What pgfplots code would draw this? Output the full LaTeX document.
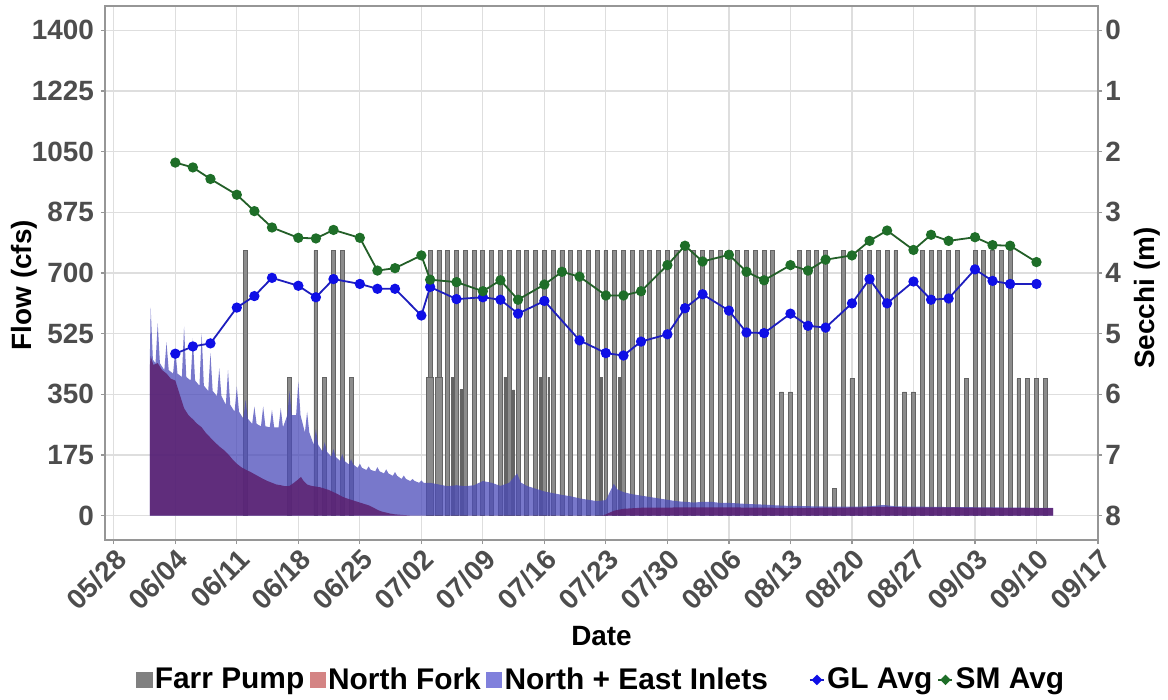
\documentclass[border=0pt]{standalone}
\usepackage{pgfplots}
\pgfplotsset{compat=1.18}
\usepackage{fontspec}
\setmainfont{Liberation Sans}
\definecolor{tickgray}{RGB}{77,77,77}
\definecolor{gridgray}{RGB}{222,222,222}
\definecolor{framegray}{RGB}{150,150,150}
\definecolor{barfill}{RGB}{140,140,140}
\definecolor{bardraw}{RGB}{100,100,100}
\definecolor{lav}{RGB}{75,75,185}
\definecolor{purp}{RGB}{91,32,111}
\definecolor{legpink}{RGB}{212,132,132}
\definecolor{leglav}{RGB}{128,128,220}
\definecolor{leggray}{RGB}{128,128,128}
\definecolor{glblue}{RGB}{15,15,230}
\definecolor{glline}{RGB}{30,30,190}
\definecolor{smgreen}{RGB}{30,110,40}
\definecolor{smline}{RGB}{35,95,40}
\newcommand{\tkfont}{\fontsize{14}{16}\selectfont\bfseries}
\begin{document}
\begin{tikzpicture}
\path[use as bounding box] (-52.5bp,-80bp) rectangle (531.5bp,270bp);
\begin{axis}[
  scale only axis, width=496.5bp, height=267bp,
  at={(0,0)}, anchor=south west,
  xmin=-1, xmax=112, ymin=-70, ymax=1470,
  xtick={0,7,...,112},
  xticklabels={05/28,06/04,06/11,06/18,06/25,07/02,07/09,07/16,07/23,07/30,08/06,08/13,08/20,08/27,09/03,09/10,09/17},
  ytick={0,175,350,525,700,875,1050,1225,1400},
  /pgf/number format/1000 sep={},
  /pgf/number format/assume math mode=true,
  tick pos=left,
  tick align=outside,
  major tick length=2bp,
  every tick/.style={framegray, line width=0.6bp},
  grid=major,
  major grid style={gridgray, line width=0.6bp},
  axis line style={framegray, line width=0.7bp},
  tick label style={font=\tkfont, text=tickgray},
  xticklabel style={rotate=45, anchor=north east, inner sep=1bp},
  xlabel={Date}, ylabel={Flow (cfs)},
  every axis x label/.style={at={(axis description cs:0.5,0)}, yshift=-48bp, anchor=center, font=\tkfont},
  every axis y label/.style={at={(axis description cs:0,0.4775)}, xshift=-40.5bp, rotate=90, anchor=center, font=\tkfont},
]
% Farr Pump - full days
\addplot[ybar, bar width=0.45, bar shift=0pt, fill=barfill, draw=bardraw, line width=0.4bp] coordinates {
(15,765)(23,765)(25,765)(26,765)
(36,765)(37,765)(38,765)(39,765)(40,765)(41,765)(42,765)(43,765)(44,765)(45,765)
(46,765)(47,765)(48,765)(49,765)(50,765)(51,765)(52,765)(53,765)(54,765)(55,765)
(56,765)(57,765)(58,765)(59,765)(60,765)(61,765)(62,765)(63,765)(64,765)(65,765)
(66,765)(67,765)(68,765)(69,765)(70,765)(71,765)(72,765)(73,765)(74,765)(75,765)
(78,765)(79,765)(80,765)(81,765)(83,765)
(85,765)(86,765)(87,765)(88,765)(89,765)
(92,765)(93,765)(94,765)(95,765)(96,765)
(98,765)(99,765)(100,765)(101,765)(102,765)
};
% Farr Pump - partial days
\addplot[ybar, bar width=0.45, bar shift=0pt, fill=barfill, draw=bardraw, line width=0.4bp] coordinates {
(20,400)(24,400)(27,400)
(76,357)(77,357)(82,78)(84,395)(90,357)(91,357)(97,395)
(103,395)(104,395)(105,395)(106,395)
};
\addplot[ybar, bar width=0.22, bar shift=0pt, fill=bardraw, draw=bardraw, line width=0.3bp] coordinates {
(38.5,400)(39.5,364)(44.5,400)(45.5,363)(48.5,400)(49.5,400)(55.5,400)(57.5,400)
};
\addplot[ybar, bar width=0.8, bar shift=0pt, fill=barfill, draw=bardraw, line width=0.4bp] coordinates {
(36,400)(37,400)
};
% North + East Inlets
\addplot[fill=lav, fill opacity=0.75, draw=none] coordinates {
(4.1,0)(4.1,450)(4.2,600)(4.45,450)
(4.75,440)(5,555)(5.25,440)
(5.75,420)(6,500)(6.25,420)
(6.75,410)(7,480)(7.25,410)
(7.75,400)(8,545)(8.25,400)
(8.75,390)(9,512)(9.25,390)
(9.75,375)(10,526)(10.25,375)
(10.75,360)(11,470)(11.25,360)
(11.75,345)(12,425)(12.25,345)
(12.75,320)(13,420)(13.25,320)
(13.75,300)(14,373)(14.25,300)
(14.75,280)(15,334)(15.25,280)
(15.75,265)(16,315)(16.25,265)
(16.75,258)(17,315)(17.25,258)
(17.75,255)(18,305)(18.25,255)
(18.75,255)(19,310)(19.25,255)
(19.75,290)(20,360)(20.25,290)
(20.75,290)(21,387)(21.25,290)
(21.75,240)(22,300)(22.25,240)
(22.75,205)(23,250)(23.25,205)
(23.75,185)(24,212)(24.25,185)
(24.75,170)(25,192)(25.25,170)
(25.75,158)(26,178)(26.25,158)
(26.75,148)(27,163)(27.25,148)
(27.75,138)(28,150)(28.25,138)
(28.75,132)(29,142)(29.25,132)
(29.75,128)(30,140)(30.25,128)
(30.75,122)(31,134)(31.25,122)
(31.75,115)(32,126)(32.25,115)
(32.75,106)(33,116)(33.25,106)
(33.75,100)(34,106)(34.25,100)
(34.75,95)(35,102)(35.25,95)
(36,95)(37,90)(38,85)(39,88)(40,85)(41,88)(42,100)(43,95)(44,86)(45,95)(45.9,122)(46.3,96)
(47,86)(48,78)(49,70)(50,65)(51,60)(52,56)(53,50)(54,46)(55,42)(56,45)(56.9,92)(57.3,76)
(58,68)(59,62)(60,58)(61,54)(62,50)(63,46)(64,42)(65,40)(66,38)(67,40)(68,40)(69,37)(70,37)
(72,34)(74,32)(76,29)(78,28)(80,27)(82,26)(84,26)(86,27)(87.6,31)(89,27)(92,26)(95,25)
(100,24)(104,23)(106.9,23)(106.9,0)
} \closedcycle;
% North Fork
\addplot[fill=purp, fill opacity=0.85, draw=none] coordinates {
(4.1,0)(4.1,430)(4.2,460)(4.5,435)(5,440)(5.5,420)(6,410)(6.5,395)(7,390)(7.5,350)(8,310)
(8.5,290)(9,278)(9.5,265)(10,255)(10.5,238)(11,225)(11.5,212)(12,200)(12.5,190)(13,178)
(13.5,163)(14,150)(14.5,140)(15,133)(15.5,127)(16,120)(16.5,113)(17,106)(17.5,100)(18,95)
(18.5,90)(19,88)(19.5,85)(20,86)(20.5,95)(21,105)(21.3,112)(21.6,100)(22,90)(22.5,86)(23,84)
(23.5,82)(24,78)(24.5,74)(25,68)(25.5,62)(26,55)(26.5,50)(27,46)(27.5,42)(28,38)(28.5,34)
(29,30)(29.5,24)(30,17)(30.5,12)(31,9)(31.5,6)(32,4)(33,2)(34,0)(55.5,0)(56,4)(56.5,10)
(57,15)(58,20)(60,23)(65,24)(70,24)(75,23)(80,23)(85,24)(88,26)(90,24)(95,24)(100,23)
(106.9,22)(106.9,0)
} \closedcycle;
\end{axis}
\begin{axis}[
  scale only axis, width=496.5bp, height=267bp,
  at={(0,0)}, anchor=south west,
  xmin=-1, xmax=112, ymin=-0.4, ymax=8.4, y dir=reverse,
  axis x line=none, axis y line*=right,
  ytick={0,1,2,3,4,5,6,7,8},
  /pgf/number format/assume math mode=true,
  tick align=outside,
  major tick length=2bp,
  every tick/.style={framegray, line width=0.6bp},
  axis line style={framegray, line width=0.7bp},
  tick label style={font=\tkfont, text=tickgray},
  yticklabel style={inner sep=1.5bp},
  ylabel={Secchi (m)},
  every axis y label/.style={at={(axis description cs:1,0.453)}, xshift=24.5bp, rotate=90, anchor=center, font=\tkfont},
  legend columns=6,
  legend style={at={(0.5,-0.262)}, anchor=center, draw=none, fill=none,
    font=\fontsize{15}{18}\selectfont\bfseries,
    nodes={inner sep=1.2bp},
    /tikz/every even column/.append style={column sep=1.5bp}},
]
\addlegendimage{legend image code/.code={\fill[leggray] (0bp,-3.8bp) rectangle (7.6bp,3.8bp);}}
\addlegendentry{Farr Pump}
\addlegendimage{legend image code/.code={\fill[legpink] (0bp,-3.8bp) rectangle (7.6bp,3.8bp);}}
\addlegendentry{North Fork}
\addlegendimage{legend image code/.code={\fill[leglav] (0bp,-3.8bp) rectangle (7.6bp,3.8bp);}}
\addlegendentry{North + East Inlets}
\addlegendimage{empty legend}
\addlegendentry{\hspace*{14bp}}
\addplot[glline, line width=0.9bp, mark=*, mark size=2.1bp,
  mark options={fill=glblue, draw=glblue},
  legend image code/.code={\draw[glline, line width=0.8bp] (0bp,0bp) -- (7bp,0bp);
    \fill[glblue] (3.5bp,2bp) -- (5.5bp,0bp) -- (3.5bp,-2bp) -- (1.5bp,0bp) -- cycle;}]
coordinates {
(7,5.33)(9,5.21)(11,5.16)(14,4.57)(16,4.38)(18,4.08)(21,4.21)(23,4.40)(25,4.10)(28,4.18)
(30,4.26)(32,4.26)(35,4.70)(36,4.23)(39,4.43)(42,4.40)(44,4.44)(46,4.67)(49,4.46)(53,5.11)
(56,5.32)(58,5.36)(60,5.13)(63,5.01)(65,4.58)(67,4.35)(70,4.62)(72,4.98)(74,4.99)(77,4.67)
(79,4.87)(81,4.90)(84,4.50)(86,4.10)(88,4.50)(91,4.14)(93,4.44)(95,4.42)(98,3.94)(100,4.13)
(102,4.18)(105,4.18)
};
\addlegendentry{GL Avg}
\addplot[smline, line width=0.9bp, mark=*, mark size=2.1bp,
  mark options={fill=smgreen, draw=smgreen},
  legend image code/.code={\draw[smline, line width=0.8bp] (0bp,0bp) -- (7bp,0bp);
    \fill[smgreen] (3.5bp,2bp) -- (5.5bp,0bp) -- (3.5bp,-2bp) -- (1.5bp,0bp) -- cycle;}]
coordinates {
(7,2.18)(9,2.26)(11,2.45)(14,2.71)(16,2.98)(18,3.25)(21,3.42)(23,3.43)(25,3.29)(28,3.42)
(30,3.96)(32,3.92)(35,3.71)(36,4.11)(39,4.15)(42,4.30)(44,4.12)(46,4.44)(49,4.19)(51,3.98)
(53,4.06)(56,4.37)(58,4.37)(60,4.30)(63,3.87)(65,3.55)(67,3.81)(70,3.70)(72,3.98)(74,4.12)
(77,3.87)(79,3.96)(81,3.78)(84,3.71)(86,3.47)(88,3.30)(91,3.62)(93,3.37)(95,3.47)(98,3.41)
(100,3.54)(102,3.55)(105,3.82)
};
\addlegendentry{SM Avg}
\end{axis}
\end{tikzpicture}
\end{document}
